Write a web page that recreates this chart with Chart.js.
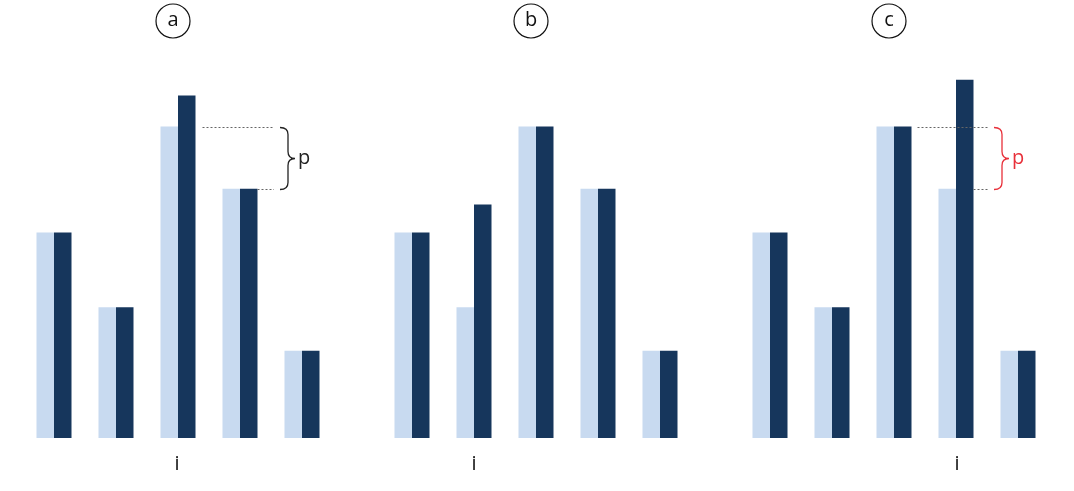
<!DOCTYPE html>
<html>
<head>
<meta charset="utf-8">
<script src="https://cdn.jsdelivr.net/npm/chart.js@4.4.1/dist/chart.umd.min.js"></script>
<style>
  html, body { margin: 0; padding: 0; background: #fff; }
  #wrap { position: relative; width: 1074px; height: 491px; overflow: hidden; }
  .panel { position: absolute; top: 0; width: 358px; height: 491px; }
</style>
</head>
<body>
<div id="wrap">
  <div class="panel" style="left:-1px"><canvas id="ca" width="358" height="491"></canvas></div>
  <div class="panel" style="left:357px"><canvas id="cb" width="358" height="491"></canvas></div>
  <div class="panel" style="left:715px"><canvas id="cc" width="358" height="491"></canvas></div>
</div>
<script>
// ---- data ----
const categories = ['1', '2', '3', '4', '5'];
const lightValues = [6.6, 4.2, 10, 8, 2.8];
const darkValuesA = [6.6, 4.2, 11, 8, 2.8];
const darkValuesB = [6.6, 7.5, 10, 8, 2.8];
const darkValuesC = [6.6, 4.2, 10, 11.5, 2.8];
const panelLabels = ['a', 'b', 'c'];
const axisLabel = 'i';
const gapLabel = 'p';

const LIGHT = '#c8daf0';
const DARK = '#16365c';
const FONT = '"Open Sans", "Liberation Sans", sans-serif';

function makePanel(id, label, darkVals, iX, brace) {
  const deco = {
    id: 'deco',
    afterDatasetsDraw(chart) {
      const ctx = chart.ctx;
      const ys = chart.scales.y;
      const ca = chart.chartArea;
      const cx = (ca.left + ca.right) / 2;
      ctx.save();
      // circle label
      ctx.beginPath();
      ctx.arc(cx - 5, 21, 17, 0, Math.PI * 2);
      ctx.lineWidth = 1.2;
      ctx.strokeStyle = '#111';
      ctx.stroke();
      ctx.fillStyle = '#111';
      ctx.font = '20px ' + FONT;
      ctx.textAlign = 'center';
      ctx.textBaseline = 'middle';
      ctx.fillText(label, cx - 5, 20);
      // axis label
      ctx.fillText(axisLabel, iX, 464);
      // brace annotation
      if (brace) {
        const meta = chart.getDatasetMeta(1);
        const topVal = lightValues[brace.topIdx];
        const botVal = lightValues[brace.botIdx];
        const y1 = Math.round(ys.getPixelForValue(topVal)) + 0.5;
        const y2 = Math.round(ys.getPixelForValue(botVal)) + 0.5;
        const barT = meta.data[brace.topIdx];
        const barB = meta.data[brace.botIdx];
        const x0 = brace.x0;
        ctx.strokeStyle = '#666';
        ctx.lineWidth = 1;
        ctx.setLineDash([2, 2]);
        ctx.beginPath();
        ctx.moveTo(barT.x + barT.width / 2 + brace.gapTop, y1);
        ctx.lineTo(x0 - 6, y1);
        ctx.moveTo(barB.x + barB.width / 2, y2);
        ctx.lineTo(x0 - 6, y2);
        ctx.stroke();
        ctx.setLineDash([]);
        // curly brace
        const xm = x0 + 8, xt = x0 + 15, r = 7;
        const ym = (y1 + y2) / 2;
        ctx.strokeStyle = brace.color;
        ctx.lineWidth = 1.3;
        ctx.beginPath();
        ctx.moveTo(x0, y1);
        ctx.quadraticCurveTo(xm, y1, xm, y1 + r);
        ctx.lineTo(xm, ym - r);
        ctx.quadraticCurveTo(xm, ym, xt, ym);
        ctx.quadraticCurveTo(xm, ym, xm, ym + r);
        ctx.lineTo(xm, y2 - r);
        ctx.quadraticCurveTo(xm, y2, x0, y2);
        ctx.stroke();
        ctx.fillStyle = brace.color;
        ctx.font = '20px ' + FONT;
        ctx.textAlign = 'left';
        ctx.textBaseline = 'alphabetic';
        ctx.fillText(gapLabel, xt + 3, ym + 5);
      }
      ctx.restore();
    }
  };
  return new Chart(document.getElementById(id), {
    type: 'bar',
    data: {
      labels: categories,
      datasets: [
        { data: lightValues, backgroundColor: LIGHT, borderWidth: 0 },
        { data: darkVals, backgroundColor: DARK, borderWidth: 0 }
      ]
    },
    options: {
      responsive: false,
      animation: false,
      events: [],
      layout: { padding: { left: 24, right: 24, top: 2, bottom: 53 } },
      datasets: { bar: { categoryPercentage: 35 / 62, barPercentage: 1 } },
      plugins: { legend: { display: false }, tooltip: { enabled: false }, title: { display: false } },
      scales: {
        x: { display: false },
        y: { display: false, min: 0, max: 14 }
      }
    },
    plugins: [deco]
  });
}

makePanel('ca', panelLabels[0], darkValuesA, 178, { topIdx: 2, botIdx: 3, x0: 281, gapTop: 7, color: '#222' });
makePanel('cb', panelLabels[1], darkValuesB, 117, null);
makePanel('cc', panelLabels[2], darkValuesC, 242, { topIdx: 2, botIdx: 3, x0: 279, gapTop: 6, color: '#e8303a' });
</script>
</body>
</html>
